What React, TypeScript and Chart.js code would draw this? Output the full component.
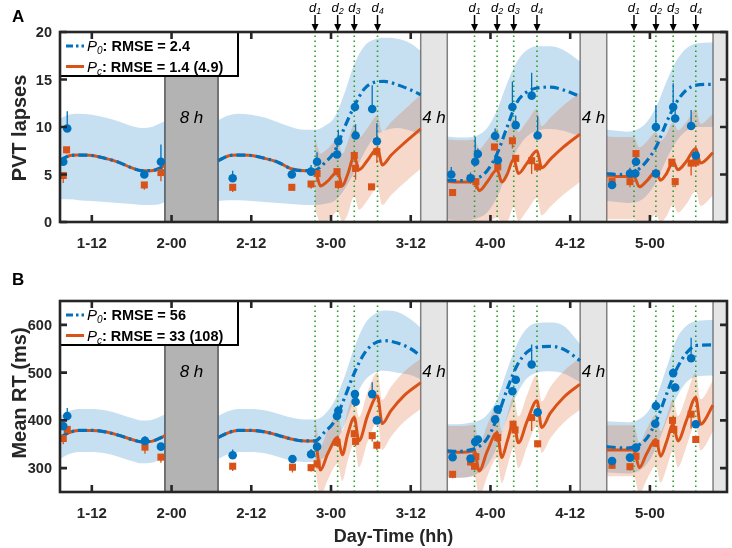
import React, { useEffect, useRef } from 'react';
import { Chart, registerables } from 'chart.js';
Chart.register(...registerables);

const FONT = '"Liberation Sans", Arial, sans-serif';
const INK = '#262626';
const BLUE = '#0072BD';
const ORANGE = '#D95319';
const BLUE_BAND = 'rgba(0,114,189,0.22)';
const ORANGE_BAND = 'rgba(217,83,25,0.22)';
const DOSE_GREEN = 'rgb(40,160,40)';

// ---- x axis (hours since day 1, 00:00) ----
const X_TICK_HOURS = [12, 24, 36, 48, 60, 72, 84, 96];
const X_TICK_LABELS = ['1-12', '2-00', '2-12', '3-00', '3-12', '4-00', '4-12', '5-00'];
const X_MIN = 7.21;
const X_MAX = 107.6;

// sleep episodes
const SLEEP_START = [23, 61.5, 85.5, 105.5];
const SLEEP_END = [31, 65.5, 89.5, 109.5];
const SLEEP_LABELS = ['8 h', '4 h', '4 h', ''];

// caffeine doses
const DOSES = [45.6, 49, 51.5, 55, 69.6, 73, 75.5, 79, 93.6, 96.9, 99.5, 102.9];
const DOSE_INDEX = ['1', '2', '3', '4', '1', '2', '3', '4', '1', '2', '3', '4'];

// ---- model time grids ----
const P0_HOURS = [
  [7.21, 8.5, 10, 12, 14, 16, 18, 19.5, 21, 22.3, 23],
  [31, 32.5, 34, 36, 38, 40, 42, 44, 45.6, 47, 48.5, 50, 51.5, 53, 54.5, 56, 58, 60, 61.5],
  [65.5, 67, 68.5, 70, 71.5, 73, 74.5, 76, 77.5, 79, 81, 83, 85.5],
  [89.5, 91, 92.5, 94, 95.5, 97, 98.5, 100, 101.5, 103, 105.5],
];
const PC_HOURS = [
  [7.21, 8.5, 10, 12, 14, 16, 18, 19.5, 21, 22.3, 23],
  [31, 32.5, 34, 36, 38, 40, 42, 44, 45.6, 46.4, 47.5, 49, 49.7, 50.5, 51.5, 52.2, 53.5, 55, 55.7, 57, 59, 61.5],
  [65.5, 67, 68.5, 69.6, 70.3, 71.5, 73, 73.7, 74.5, 75.5, 76.2, 77.5, 79, 79.7, 81, 83, 85.5],
  [89.5, 91, 92.5, 93.6, 94.4, 95.5, 96.9, 97.6, 98.5, 99.5, 100.2, 101.5, 102.9, 103.6, 105.5],
];
const PC_BAND_HOURS = [
  [45.6, 46.4, 47.5, 49, 49.7, 50.5, 51.5, 52.2, 53.5, 55, 55.7, 57, 59, 61.5],
  [65.5, 67, 68.5, 69.6, 70.3, 71.5, 73, 73.7, 74.5, 75.5, 76.2, 77.5, 79, 79.7, 81, 83, 85.5],
  [89.5, 91, 92.5, 93.6, 94.4, 95.5, 96.9, 97.6, 98.5, 99.5, 100.2, 101.5, 102.9, 103.6, 105.5],
];

// ---- Panel A: PVT lapses ----
const A_P0_MEAN = [
  [6.5, 6.95, 7.05, 7.0, 6.7, 6.3, 5.7, 5.4, 5.4, 5.7, 6.0],
  [6.45, 6.95, 7.05, 7.0, 6.7, 6.3, 5.6, 5.4, 5.45, 6.2, 7.4, 9.9, 12.2, 14.0, 14.7, 14.8, 14.45, 13.9, 13.4],
  [4.4, 4.35, 4.4, 4.6, 5.4, 7.2, 10.0, 12.6, 13.7, 14.1, 14.2, 13.9, 13.2],
  [5.1, 5.0, 5.05, 5.4, 6.4, 8.0, 10.5, 12.6, 13.9, 14.4, 14.5],
];
const A_P0_UP = [
  [10.9, 11.3, 11.4, 11.3, 11.0, 10.6, 10.1, 9.9, 10.0, 10.4, 10.6],
  [10.7, 11.2, 11.4, 11.3, 11.0, 10.5, 10.0, 9.7, 9.7, 10.1, 11.0, 13.5, 16.6, 18.5, 19.2, 19.4, 19.3, 18.8, 18.0],
  [9.0, 8.9, 8.9, 9.1, 9.9, 11.8, 14.6, 16.9, 18.1, 18.5, 18.5, 18.1, 16.9],
  [9.7, 9.6, 9.5, 9.7, 10.5, 12.2, 14.8, 17.0, 18.3, 18.8, 18.9],
];
const A_P0_LO = [
  [2.4, 2.4, 2.3, 2.2, 2.1, 2.0, 1.9, 1.8, 1.8, 1.9, 2.1],
  [2.2, 2.3, 2.3, 2.2, 2.1, 2.0, 1.9, 1.8, 1.8, 1.9, 2.2, 3.4, 5.2, 7.3, 8.9, 9.6, 9.9, 9.6, 9.2],
  [0.3, 0.2, 0.2, 0.4, 1.0, 2.6, 5.2, 7.6, 9.0, 9.6, 9.8, 9.6, 9.0],
  [2.2, 2.1, 2.0, 2.1, 2.8, 4.3, 6.6, 8.5, 9.6, 10.0, 10.0],
];
const A_PC_MEAN = [
  [6.5, 6.95, 7.05, 7.0, 6.7, 6.3, 5.7, 5.4, 5.4, 5.7, 6.0],
  [6.45, 6.95, 7.05, 7.0, 6.7, 6.3, 5.6, 5.4, 5.45, 3.8, 4.3, 5.3, 3.8, 5.0, 6.9, 5.5, 6.5, 7.75, 6.0, 7.0, 8.3, 9.8],
  [4.25, 4.2, 4.2, 4.3, 3.3, 4.2, 5.5, 4.2, 5.0, 6.6, 5.1, 6.2, 7.5, 5.7, 6.6, 7.9, 9.25],
  [4.85, 4.8, 4.8, 4.8, 3.7, 4.3, 5.3, 4.4, 5.1, 6.35, 5.5, 6.4, 7.75, 6.2, 7.3],
];
const A_PC_UP = [
  [8.9, 7.2, 7.7, 8.7, 7.2, 8.4, 10.3, 8.9, 9.9, 11.2, 9.5, 10.5, 11.8, 13.4],
  [8.7, 8.6, 8.6, 8.7, 7.7, 8.6, 9.9, 8.6, 9.4, 11.0, 9.5, 10.6, 11.9, 10.1, 11.0, 12.3, 13.6],
  [9.0, 8.95, 8.95, 8.95, 7.85, 8.45, 9.45, 8.55, 9.25, 10.5, 9.65, 10.55, 11.9, 10.35, 11.4],
];
const A_PC_LO = [
  [1.3, 0, 0.1, 1.1, 0, 0.8, 2.7, 1.3, 2.3, 3.6, 1.8, 2.8, 4.1, 5.6],
  [0, 0, 0, 0, 0, 0, 0.5, 0, 0, 1.6, 0.1, 1.2, 2.5, 0.7, 1.6, 2.9, 4.25],
  [0.3, 0.3, 0.3, 0.3, 0, 0, 0.8, 0, 0.6, 1.85, 1.0, 1.9, 3.25, 1.7, 2.8],
];
const A_CIRC_H = [7.7, 8.3, 19.9, 22.4, 33.2, 42.1, 45.0, 45.9, 48.9, 49.1, 51.6, 51.7, 54.2, 54.9, 66.1, 69.0, 69.7, 70.1, 72.7, 73.1, 75.3, 75.8, 78.2, 79.1, 90.3, 93.0, 93.8, 93.9, 96.9, 96.9, 99.5, 99.8, 102.2, 102.9];
const A_CIRC_V = [6.35, 9.85, 5.0, 6.35, 4.6, 5.0, 5.3, 6.35, 7.1, 8.5, 12.1, 9.1, 11.9, 8.5, 5.0, 4.6, 6.35, 7.15, 9.05, 6.5, 12.1, 10.2, 13.3, 9.1, 3.9, 5.1, 5.1, 6.35, 10.0, 5.1, 12.1, 10.9, 10.1, 7.0];
const A_CIRC_E = [0.4, 1.8, 0.5, 1.8, 0.8, 0.6, 0.7, 1.0, 1.2, 1.2, 0.6, 1.2, 2.5, 1.9, 0.8, 0.6, 2.6, 0.6, 0.8, 0.5, 2.7, 1.0, 2.4, 2.0, 0.5, 0.6, 0.5, 1.0, 2.3, 0.5, 2.5, 1.0, 1.7, 0.5];
const A_SQ_H = [7.7, 8.2, 19.9, 22.4, 33.2, 42.1, 45.0, 45.9, 48.9, 49.1, 51.5, 51.7, 54.1, 54.9, 66.3, 69.0, 69.8, 72.6, 73.1, 75.3, 75.8, 78.2, 79.1, 90.3, 93.0, 93.9, 96.9, 99.3, 99.8, 102.2, 102.9];
const A_SQ_V = [4.9, 7.6, 3.9, 5.2, 3.65, 3.65, 4.0, 5.1, 5.3, 3.95, 7.0, 5.65, 3.7, 7.4, 3.1, 4.6, 4.25, 7.9, 5.8, 8.55, 6.7, 6.45, 5.8, 4.25, 4.25, 7.2, 5.1, 6.3, 4.25, 6.2, 6.3];
const A_SQ_E = [0.8, 0.4, 0.5, 0.9, 0.5, 0.3, 0.5, 0.9, 0.4, 0.5, 0.5, 1.2, 0.3, 1.2, 0.3, 0.6, 0.8, 0.4, 0.6, 0.8, 0.5, 1.4, 0.4, 0.3, 0.6, 0.5, 0.5, 0.5, 0.6, 1.3, 0.5];
const A_Y_TICKS = [0, 5, 10, 15, 20];
const A_RMSE = ['2.4', '1.4 (4.9)'];

// ---- Panel B: Mean RT (ms) ----
const B_P0_MEAN = [
  [364, 374, 379, 379, 376, 369, 360, 355, 356, 363, 368],
  [364, 374, 379, 379, 376, 369, 361, 357, 357, 375, 398, 446, 499, 540, 561, 567, 562, 550, 535],
  [336, 335, 337, 343, 362, 405, 465, 515, 543, 553, 555, 549, 525],
  [345, 343, 342, 346, 362, 400, 455, 507, 541, 557, 558],
];
const B_P0_UP = [
  [409, 419, 424, 424, 421, 414, 405, 400, 401, 408, 413],
  [409, 419, 424, 424, 421, 414, 406, 402, 402, 412, 440, 490, 552, 600, 622, 630, 627, 612, 594],
  [392, 392, 394, 398, 412, 445, 505, 560, 593, 604, 605, 598, 560],
  [398, 397, 396, 400, 415, 450, 510, 570, 598, 608, 610],
];
const B_P0_LO = [
  [319, 329, 334, 334, 331, 324, 315, 310, 311, 318, 323],
  [319, 329, 334, 334, 331, 324, 316, 313, 313, 323, 348, 390, 443, 482, 500, 504, 500, 495, 486],
  [281, 280, 281, 288, 305, 345, 405, 455, 488, 500, 503, 498, 480],
  [291, 290, 289, 292, 308, 345, 398, 448, 480, 492, 494],
];
const B_PC_MEAN = [
  [364, 374, 379, 379, 376, 369, 360, 355, 356, 363, 368],
  [364, 374, 379, 379, 376, 369, 361, 357, 357, 296, 330, 364, 328, 370, 406, 357, 410, 451, 393, 420, 452, 479],
  [334, 333, 334, 336, 294, 335, 374, 322, 355, 395, 353, 398, 441, 385, 415, 448, 476],
  [338, 338, 338, 338, 301, 330, 360, 325, 355, 392, 357, 400, 448, 392, 432],
];
const B_PC_UP = [
  [407, 346, 380, 414, 378, 420, 456, 407, 460, 501, 443, 470, 502, 529],
  [389, 388, 389, 391, 349, 390, 429, 377, 410, 450, 408, 453, 496, 440, 470, 503, 531],
  [390, 390, 390, 390, 353, 382, 412, 377, 407, 444, 409, 452, 500, 444, 484],
];
const B_PC_LO = [
  [302, 241, 275, 309, 273, 315, 351, 302, 355, 396, 338, 365, 397, 424],
  [281, 280, 281, 283, 241, 282, 321, 269, 302, 342, 300, 345, 388, 332, 362, 395, 423],
  [283, 283, 283, 283, 246, 275, 305, 270, 300, 337, 302, 345, 393, 337, 377],
];
const B_CIRC_H = [7.7, 8.3, 20.0, 22.4, 33.2, 42.2, 45.0, 45.9, 48.9, 49.1, 51.6, 51.7, 54.2, 54.9, 66.3, 69.0, 69.7, 70.1, 72.7, 73.1, 75.3, 75.8, 78.2, 79.1, 90.3, 93.0, 93.9, 96.8, 96.9, 99.5, 99.8, 102.2, 102.9];
const B_CIRC_V = [388, 409, 357, 345, 327, 319, 329, 345, 409, 420, 455, 439, 455, 400, 323, 320, 355, 360, 402, 423, 461, 485, 517, 417, 315, 322, 343, 393, 430, 499, 469, 530, 392];
const B_CIRC_E = [5, 17, 10, 5, 12, 5, 11, 8, 8, 8, 8, 6, 25, 8, 6, 5, 8, 5, 6, 6, 8, 8, 42, 8, 6, 5, 6, 8, 12, 10, 8, 43, 6];
const B_SQ_H = [7.7, 8.3, 20.0, 22.4, 33.2, 42.2, 45.0, 45.9, 48.9, 51.5, 51.7, 54.2, 54.9, 66.3, 69.0, 69.6, 69.8, 73.1, 75.4, 75.7, 78.2, 79.1, 90.3, 93.0, 93.9, 96.9, 99.4, 99.6, 102.2, 102.9];
const B_SQ_V = [362, 381, 344, 323, 304, 302, 301, 309, 354, 372, 356, 368, 348, 287, 313, 304, 324, 364, 392, 380, 406, 351, 306, 303, 325, 352, 400, 381, 413, 360];
const B_SQ_E = [12, 6, 14, 12, 10, 11, 8, 10, 8, 8, 10, 12, 10, 8, 8, 8, 8, 8, 8, 8, 28, 8, 8, 8, 8, 8, 8, 10, 30, 6];
const B_Y_TICKS = [300, 400, 500, 600];
const B_RMSE = ['56', '33 (108)'];

type Panel = {
  letter: string; yTitle: string; yMin: number; yMax: number; yTicks: number[];
  p0Mean: number[][]; p0Up: number[][]; p0Lo: number[][];
  pcMean: number[][]; pcUp: number[][]; pcLo: number[][];
  cH: number[]; cV: number[]; cE: number[]; sH: number[]; sV: number[]; sE: number[];
  rmse: string[]; sleepLabelY: number; arrows: boolean; xTitle: boolean;
  height: number; padTop: number; xAxisH: number; letterY: number; yTitleY: number; tickBase: number;
};

const PANEL_A: Panel = {
  letter: 'A', yTitle: 'PVT lapses', yMin: 0, yMax: 20, yTicks: A_Y_TICKS,
  p0Mean: A_P0_MEAN, p0Up: A_P0_UP, p0Lo: A_P0_LO, pcMean: A_PC_MEAN, pcUp: A_PC_UP, pcLo: A_PC_LO,
  cH: A_CIRC_H, cV: A_CIRC_V, cE: A_CIRC_E, sH: A_SQ_H, sV: A_SQ_V, sE: A_SQ_E,
  rmse: A_RMSE, sleepLabelY: 10.9, arrows: true, xTitle: false,
  height: 258, padTop: 32, xAxisH: 36, letterY: 22, yTitleY: 128, tickBase: 248,
};
const PANEL_B: Panel = {
  letter: 'B', yTitle: 'Mean RT (ms)', yMin: 250, yMax: 650, yTicks: B_Y_TICKS,
  p0Mean: B_P0_MEAN, p0Up: B_P0_UP, p0Lo: B_P0_LO, pcMean: B_PC_MEAN, pcUp: B_PC_UP, pcLo: B_PC_LO,
  cH: B_CIRC_H, cV: B_CIRC_V, cE: B_CIRC_E, sH: B_SQ_H, sV: B_SQ_V, sE: B_SQ_E,
  rmse: B_RMSE, sleepLabelY: 500, arrows: false, xTitle: true,
  height: 290, padTop: 43, xAxisH: 56, letterY: 27, yTitleY: 135, tickBase: 260,
};

const pts = (hs: number[], vs: number[]) => hs.map((h, i) => ({ x: h, y: vs[i] }));
const joined = (H: number[][], V: number[][]) => {
  const out: any[] = [];
  H.forEach((hs, k) => {
    out.push(...pts(hs, V[k]));
    if (k < H.length - 1) out.push({ x: hs[hs.length - 1] + 0.01, y: null });
  });
  return out;
};
const bars = (hs: number[], vs: number[], es: number[], dir: number) =>
  hs.flatMap((h, i) => [{ x: h, y: vs[i] }, { x: h, y: vs[i] + dir * es[i] }, { x: h, y: null }]);

function buildConfig(p: Panel): any {
  const datasets: any[] = [];
  const bandBase = { pointRadius: 0, borderColor: 'rgba(0,0,0,0)', borderWidth: 1, cubicInterpolationMode: 'monotone' };
  P0_HOURS.forEach((hs, k) => {
    datasets.push({ ...bandBase, data: pts(hs, p.p0Up[k]), fill: '+1', backgroundColor: BLUE_BAND, order: 100 });
    datasets.push({ ...bandBase, data: pts(hs, p.p0Lo[k]), fill: false, order: 100 });
  });
  PC_BAND_HOURS.forEach((hs, k) => {
    datasets.push({ ...bandBase, data: pts(hs, p.pcUp[k]), fill: '+1', backgroundColor: ORANGE_BAND, order: 90 });
    datasets.push({ ...bandBase, data: pts(hs, p.pcLo[k]), fill: false, order: 90 });
  });
  datasets.push({
    data: DOSES.flatMap((d) => [{ x: d, y: p.yMin }, { x: d, y: p.yMax }, { x: d, y: null }]),
    borderColor: DOSE_GREEN, borderWidth: 1.6, borderDash: [1.6, 3.4], pointRadius: 0, fill: false, order: 80,
  });
  datasets.push({ data: bars(p.sH, p.sV, p.sE, -1), borderColor: ORANGE, borderWidth: 1.3, pointRadius: 0, fill: false, order: 70 });
  datasets.push({ data: bars(p.cH, p.cV, p.cE, 1), borderColor: BLUE, borderWidth: 1.3, pointRadius: 0, fill: false, order: 70 });
  datasets.push({
    data: joined(PC_HOURS, p.pcMean), borderColor: ORANGE, borderWidth: 3, pointRadius: 0, fill: false,
    cubicInterpolationMode: 'monotone', order: 60,
  });
  datasets.push({
    data: joined(P0_HOURS, p.p0Mean), borderColor: BLUE, borderWidth: 3.2, borderDash: [9, 4, 2.5, 4], pointRadius: 0,
    fill: false, cubicInterpolationMode: 'monotone', order: 50,
  });
  datasets.push({
    data: pts(p.sH, p.sV), showLine: false, pointStyle: 'rect', pointRadius: 5, pointBackgroundColor: ORANGE,
    pointBorderColor: ORANGE, pointBorderWidth: 0, order: 40,
  });
  datasets.push({
    data: pts(p.cH, p.cV), showLine: false, pointStyle: 'circle', pointRadius: 4.3, pointBackgroundColor: BLUE,
    pointBorderColor: BLUE, pointBorderWidth: 0, order: 30,
  });

  const decor = {
    id: 'decor',
    beforeDatasetsDraw(chart: any) {
      const { ctx, chartArea: a } = chart;
      const xs = chart.scales.x;
      ctx.save();
      ctx.beginPath();
      ctx.rect(a.left, a.top, a.right - a.left, a.bottom - a.top);
      ctx.clip();
      SLEEP_START.forEach((s, i) => {
        const x0 = xs.getPixelForValue(s);
        const x1 = xs.getPixelForValue(SLEEP_END[i]);
        ctx.fillStyle = i === 0 ? '#b3b3b3' : '#e5e5e5';
        ctx.fillRect(x0, a.top, x1 - x0, a.bottom - a.top);
        ctx.strokeStyle = i === 0 ? '#555555' : '#808080';
        ctx.lineWidth = 1.5;
        ctx.beginPath();
        ctx.moveTo(x0, a.top); ctx.lineTo(x0, a.bottom);
        ctx.moveTo(x1, a.top); ctx.lineTo(x1, a.bottom);
        ctx.stroke();
      });
      ctx.restore();
    },
    afterDraw(chart: any) {
      const { ctx, chartArea: a } = chart;
      const xs = chart.scales.x;
      const ys = chart.scales.y;
      ctx.save();
      // sleep labels
      ctx.fillStyle = '#000';
      ctx.font = `italic 17px ${FONT}`;
      ctx.textAlign = 'center';
      ctx.textBaseline = 'middle';
      SLEEP_START.forEach((s, i) => {
        if (!SLEEP_LABELS[i]) return;
        const cx = (xs.getPixelForValue(s) + xs.getPixelForValue(SLEEP_END[i])) / 2;
        ctx.fillText(SLEEP_LABELS[i], cx, ys.getPixelForValue(p.sleepLabelY));
      });
      // legend
      const L = a.left, T = a.top, W = 178, H = 44;
      ctx.fillStyle = '#fff';
      ctx.fillRect(L, T, W, H);
      ctx.strokeStyle = '#000';
      ctx.lineWidth = 2;
      ctx.strokeRect(L, T, W, H);
      const items = [
        { color: BLUE, dash: [7, 3, 2.5, 3], sub: '0', rmse: p.rmse[0] },
        { color: ORANGE, dash: [], sub: 'c', rmse: p.rmse[1] },
      ];
      items.forEach((it, i) => {
        const yy = T + 14 + i * 20.5;
        ctx.strokeStyle = it.color;
        ctx.lineWidth = 3;
        ctx.setLineDash(it.dash);
        ctx.beginPath(); ctx.moveTo(L + 6, yy); ctx.lineTo(L + 24, yy); ctx.stroke();
        ctx.setLineDash([]);
        let tx = L + 27;
        const base = yy + 5.3;
        ctx.fillStyle = '#000';
        ctx.textAlign = 'left';
        ctx.textBaseline = 'alphabetic';
        ctx.font = `italic 15px ${FONT}`;
        ctx.fillText('P', tx, base); tx += ctx.measureText('P').width;
        ctx.font = `italic 10px ${FONT}`;
        ctx.fillText(it.sub, tx, base + 3); tx += ctx.measureText(it.sub).width;
        ctx.font = `bold 14.5px ${FONT}`;
        ctx.fillText(': RMSE = ' + it.rmse, tx, base);
      });
      // frame + inward ticks
      ctx.strokeStyle = INK;
      ctx.lineWidth = 2.6;
      ctx.beginPath();
      X_TICK_HOURS.forEach((h) => {
        const px = xs.getPixelForValue(h);
        ctx.moveTo(px, a.bottom); ctx.lineTo(px, a.bottom - 7);
        ctx.moveTo(px, a.top); ctx.lineTo(px, a.top + 7);
      });
      p.yTicks.forEach((v) => {
        const py = ys.getPixelForValue(v);
        ctx.moveTo(a.left, py); ctx.lineTo(a.left + 7, py);
        ctx.moveTo(a.right, py); ctx.lineTo(a.right - 7, py);
      });
      ctx.stroke();
      ctx.strokeRect(a.left, a.top, a.right - a.left, a.bottom - a.top);
      // tick labels
      ctx.fillStyle = INK;
      ctx.font = `bold 15px ${FONT}`;
      ctx.textAlign = 'center';
      ctx.textBaseline = 'alphabetic';
      X_TICK_HOURS.forEach((h, i) => ctx.fillText(X_TICK_LABELS[i], xs.getPixelForValue(h), p.tickBase));
      ctx.textAlign = 'right';
      ctx.textBaseline = 'middle';
      ctx.font = `bold 14.5px ${FONT}`;
      p.yTicks.forEach((v) => ctx.fillText(String(v), a.left - 8, ys.getPixelForValue(v) + 1));
      // axis titles
      ctx.font = `bold 20px ${FONT}`;
      ctx.save();
      ctx.translate(26, p.yTitleY);
      ctx.rotate(-Math.PI / 2);
      ctx.textAlign = 'center';
      ctx.textBaseline = 'alphabetic';
      ctx.fillText(p.yTitle, 0, 0);
      ctx.restore();
      if (p.xTitle) {
        ctx.font = `bold 18px ${FONT}`;
        ctx.textAlign = 'center';
        ctx.textBaseline = 'alphabetic';
        ctx.fillText('Day-Time (hh)', (a.left + a.right) / 2, 284);
      }
      // panel letter
      ctx.fillStyle = '#000';
      ctx.font = `bold 17px ${FONT}`;
      ctx.textAlign = 'left';
      ctx.textBaseline = 'alphabetic';
      ctx.fillText(p.letter, 12, p.letterY);
      // dose arrows
      if (p.arrows) {
        DOSES.forEach((d, i) => {
          const px = xs.getPixelForValue(d);
          ctx.strokeStyle = '#000';
          ctx.lineWidth = 1.5;
          ctx.beginPath(); ctx.moveTo(px, 15); ctx.lineTo(px, 25); ctx.stroke();
          ctx.fillStyle = '#000';
          ctx.beginPath(); ctx.moveTo(px - 3.5, 24); ctx.lineTo(px + 3.5, 24); ctx.lineTo(px, 31.5); ctx.closePath(); ctx.fill();
          ctx.font = `italic 13px ${FONT}`;
          const wd = ctx.measureText('d').width;
          ctx.font = `italic 9px ${FONT}`;
          const ws = ctx.measureText(DOSE_INDEX[i]).width;
          const x0 = px - (wd + ws) / 2;
          ctx.textAlign = 'left';
          ctx.font = `italic 13px ${FONT}`;
          ctx.fillText('d', x0, 11.5);
          ctx.font = `italic 9px ${FONT}`;
          ctx.fillText(DOSE_INDEX[i], x0 + wd, 14);
        });
      }
      ctx.restore();
    },
  };

  return {
    type: 'line',
    data: { datasets },
    options: {
      animation: false,
      responsive: false,
      devicePixelRatio: 1,
      events: [],
      spanGaps: false,
      layout: { padding: { top: p.padTop, right: 2, left: 0, bottom: 0 } },
      plugins: { legend: { display: false }, tooltip: { enabled: false } },
      scales: {
        x: {
          type: 'linear', min: X_MIN, max: X_MAX,
          grid: { display: false, drawTicks: false }, border: { display: false },
          ticks: { display: false },
          afterBuildTicks: (s: any) => { s.ticks = X_TICK_HOURS.map((v) => ({ value: v })); },
          afterFit: (s: any) => { s.height = p.xAxisH; },
        },
        y: {
          type: 'linear', min: p.yMin, max: p.yMax,
          grid: { display: false, drawTicks: false }, border: { display: false },
          ticks: { display: false },
          afterBuildTicks: (s: any) => { s.ticks = p.yTicks.map((v) => ({ value: v })); },
          afterFit: (s: any) => { s.width = 60; },
        },
      },
    },
    plugins: [decor],
  };
}

export default function App() {
  const refA = useRef<HTMLCanvasElement>(null);
  const refB = useRef<HTMLCanvasElement>(null);
  useEffect(() => {
    const ca = new Chart(refA.current as HTMLCanvasElement, buildConfig(PANEL_A));
    const cb = new Chart(refB.current as HTMLCanvasElement, buildConfig(PANEL_B));
    return () => { ca.destroy(); cb.destroy(); };
  }, []);
  return (
    <div style={{ position: 'fixed', left: 0, top: 0, width: 732, height: 548, background: '#fff' }}>
      <canvas ref={refA} width={732} height={PANEL_A.height}
        style={{ position: 'absolute', left: 0, top: 0, width: 732, height: PANEL_A.height }} />
      <canvas ref={refB} width={732} height={PANEL_B.height}
        style={{ position: 'absolute', left: 0, top: PANEL_A.height, width: 732, height: PANEL_B.height }} />
    </div>
  );
}
